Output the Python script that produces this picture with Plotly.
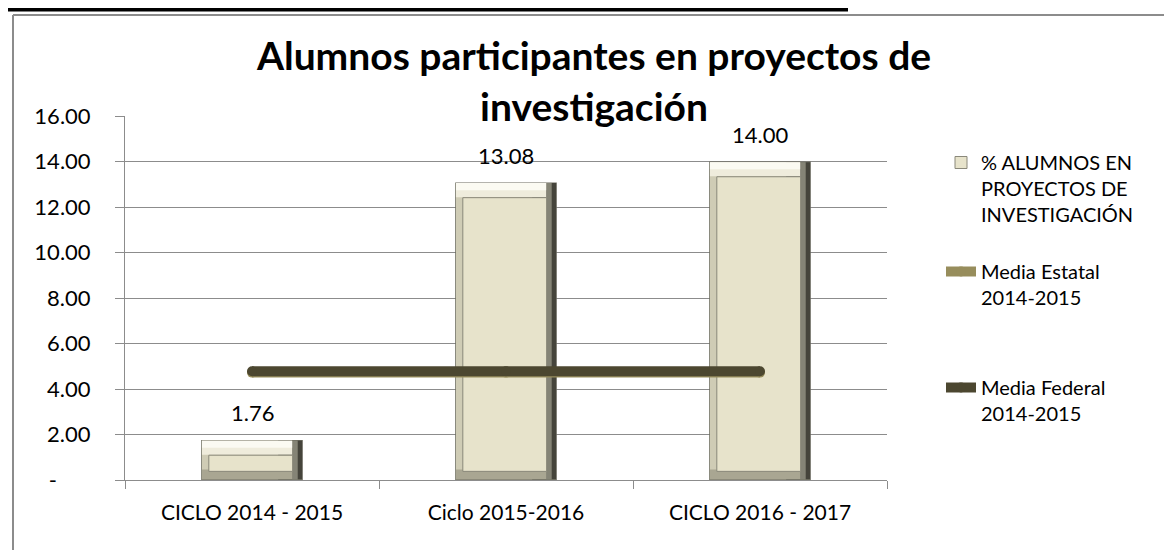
import plotly.graph_objects as go

# ---- data ----
categories = ["CICLO 2014 - 2015", "Ciclo 2015-2016", "CICLO 2016 - 2017"]
alumnos_pct = [1.76, 13.08, 14.00]
media_estatal = [4.72, 4.72, 4.72]
media_federal = [4.78, 4.78, 4.78]
y_tickvals = [0, 2, 4, 6, 8, 10, 12, 14, 16]
y_ticktext = ["-\u00a0\u00a0\u00a0\u00a0\u00a0\u00a0", "2.00", "4.00", "6.00", "8.00", "10.00", "12.00", "14.00", "16.00"]
bar_name = "% ALUMNOS EN<br>PROYECTOS DE<br>INVESTIGACIÓN"
estatal_name = "Media Estatal<br>2014-2015"
federal_name = "Media Federal<br>2014-2015"
title_text = "<b>Alumnos participantes en proyectos de<br>investigación</b>"

FONT = "Lato"
W, H = 1172, 550
ML, MR, MT, MB = 117, 293, 108, 78
PW, PH = W - ML - MR, H - MT - MB


def xp(px):
    return (px - ML) / PW


def yp(py):
    return (H - MB - py) / PH


fig = go.Figure()

BW = 0.40
EX = 0.03   # side bevel (category units)
EY = 0.38   # bottom bevel (y units)
TY = 0.62   # top bevel (y units)


def layer(base, height, offset, width, color, show=False, name=None, line=None):
    fig.add_trace(go.Bar(
        x=categories, y=height, base=base, offset=offset, width=width,
        marker=dict(color=color, line=line or dict(width=0)),
        showlegend=show, name=name, legendgroup="bar", legend="legend", hoverinfo="skip",
    ))


vals = alumnos_pct
# outline
layer([0] * 3, vals, -BW / 2, BW, "#6a695c")
# left bevel
layer([0.03] * 3, [v - 0.06 for v in vals], -BW / 2 + 0.003, 0.3, "#cfccb5")
# bottom bevel
layer([0.03] * 3, [EY + 0.05] * 3, -BW / 2 + 0.003, BW - 0.006, "#a9a692")
# right bevel (two tones)
layer([0.03] * 3, [v - 0.06 for v in vals], BW / 2 - 0.042, 0.039, "#858476")
layer([0.03] * 3, [v - 0.06 for v in vals], BW / 2 - 0.02, 0.017, "#45443b")
# top bevel (two tones)
layer([v - TY - 0.03 for v in vals], [TY] * 3, -BW / 2 + 0.003, BW - 0.045, "#efecdc")
layer([v - TY * 0.5 - 0.03 for v in vals], [TY * 0.5] * 3, -BW / 2 + 0.003, BW - 0.045, "#fbfaf2")
# face
layer([EY] * 3, [v - EY - TY - 0.05 for v in vals], -BW / 2 + EX, BW - 2 * EX - 0.01, "#e7e3cb",
      show=True, name=bar_name, line=dict(color="#8a887a", width=1))

fig.add_trace(go.Scatter(
    x=categories, y=media_estatal, mode="lines+markers", name=estatal_name,
    line=dict(color="#978d5c", width=10), marker=dict(color="#978d5c", size=10),
    legend="legend2", hoverinfo="skip",
))
fig.add_trace(go.Scatter(
    x=categories, y=media_federal, mode="lines+markers", name=federal_name,
    line=dict(color="#4c4730", width=10), marker=dict(color="#4c4730", size=10),
    legend="legend3", hoverinfo="skip",
))

annotations = []
for c, v in zip(categories, alumnos_pct):
    annotations.append(dict(
        x=c, y=v, xref="x", yref="y", text=f"{v:.2f}", showarrow=False,
        yanchor="middle", yshift=27, font=dict(family=FONT, size=22, color="#000000"),
    ))

shapes = [
    # thick black line at the very top
    dict(type="line", xref="paper", yref="paper", x0=xp(0), x1=xp(840), y0=yp(1.5), y1=yp(1.5),
         line=dict(color="#000000", width=4)),
    # grey chart-area frame (top and left)
    dict(type="line", xref="paper", yref="paper", x0=xp(5), x1=xp(1172), y0=yp(7), y1=yp(7),
         line=dict(color="#8c8c8c", width=2)),
    dict(type="line", xref="paper", yref="paper", x0=xp(5), x1=xp(5), y0=yp(7), y1=yp(550),
         line=dict(color="#8c8c8c", width=2)),
]


def legend_at(top_px):
    return dict(x=933 / W, xref="container", xanchor="left",
                y=1 - top_px / H, yref="container", yanchor="top",
                font=dict(family=FONT, size=20, color="#000000"),
                valign="top", bgcolor="rgba(0,0,0,0)", maxheight=400)


fig.update_layout(
    width=W, height=H,
    margin=dict(l=ML, r=MR, t=MT, b=MB),
    paper_bgcolor="white", plot_bgcolor="white",
    barmode="overlay",
    font=dict(family=FONT, color="#000000"),
    title=dict(text=title_text, x=0.5, xref="container", xanchor="center",
               y=1 - 62 / H, yref="container", yanchor="top",
               font=dict(family=FONT, size=39, color="#000000")),
    legend=legend_at(135),
    legend2=legend_at(244),
    legend3=legend_at(360),
    annotations=annotations,
    shapes=shapes,
    xaxis=dict(type="category", showline=True, linecolor="#8c8c8c", linewidth=1,
               ticks="outside", tickson="boundaries", ticklen=8, tickcolor="#8c8c8c",
               showgrid=False, tickfont=dict(family=FONT, size=21, color="#000000"),
               ticklabelstandoff=14),
    yaxis=dict(range=[0, 16], tickvals=y_tickvals, ticktext=y_ticktext,
               showline=True, linecolor="#8c8c8c", linewidth=1,
               ticks="outside", ticklen=9, tickcolor="#8c8c8c",
               showgrid=True, gridcolor="#8c8c8c", gridwidth=1, zeroline=False,
               tickfont=dict(family=FONT, size=22, color="#000000"),
               ticklabelstandoff=20),
)

fig.write_html("out.html")
